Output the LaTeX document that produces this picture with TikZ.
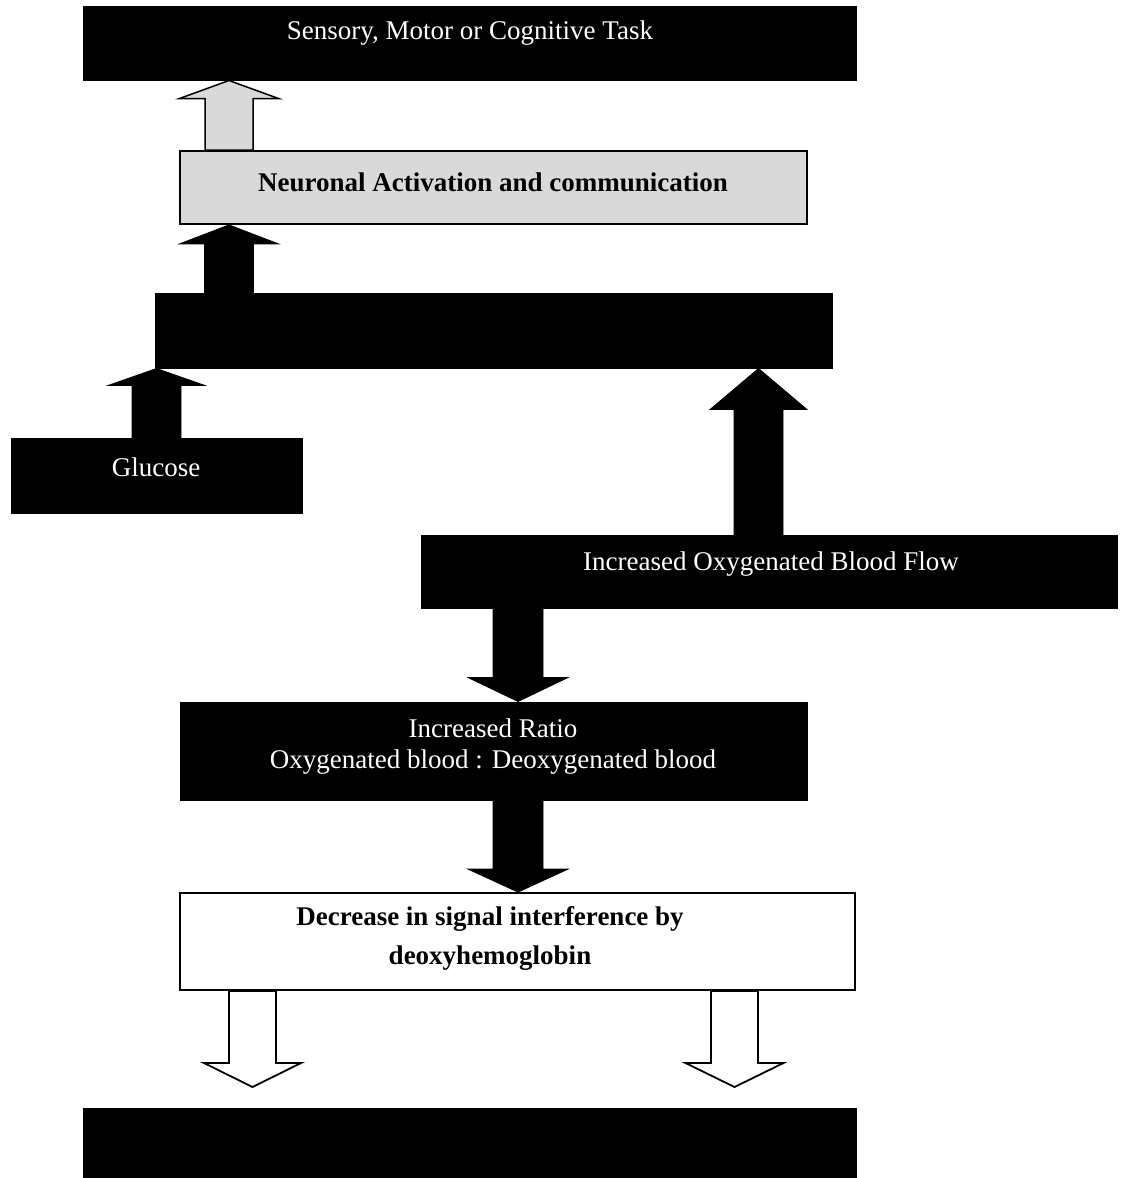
\documentclass[tikz,border=0pt]{standalone}
\usepackage{fontspec}
\setmainfont{Liberation Serif}
\usetikzlibrary{calc}
\newcommand\blockarr[7]{%
  \path[#1] let \p1=(#2,0 |- #3), \p2=(#2,0 |- #4), \p3=($(\p2)!#7pt!(\p1)$) in
  (\x1-#5pt,\y1) -- (\x1-#5pt,\y3) -- (\x1-#6pt,\y3) -- (\x2,\y2) --
  (\x1+#6pt,\y3) -- (\x1+#5pt,\y3) -- (\x1+#5pt,\y1) -- cycle;}
\tikzset{
  darkbox/.style={draw=black, fill=black, inner sep=0pt, line width=1pt},
  graybox/.style={draw=black, fill=gray!30, inner sep=0pt, line width=1.8pt},
  whitebox/.style={draw=black, fill=white, inner sep=0pt, line width=1.8pt},
  wtxt/.style={text=white, font=\fontsize{27}{31}\selectfont, align=center, inner sep=0pt},
  btxt/.style={text=black, font=\fontsize{27}{39}\selectfont\bfseries, align=center, inner sep=0pt},
  blackarr/.style={fill=black, draw=black, line width=0.8pt},
  grayarr/.style={fill=gray!30, draw=black, line width=1.5pt, line join=miter},
  whitearr/.style={fill=white, draw=black, line width=1.8pt, line join=miter},
}
\begin{document}
\begin{tikzpicture}[x=1pt, y=-1pt]
\useasboundingbox (0,0) rectangle (1123,1178);
% boxes
\node[darkbox, minimum width=773pt, minimum height=74pt] (A) at (469.5,43) {};
\node[graybox, minimum width=627pt, minimum height=73pt] (B) at (493.5,187.5) {};
\node[darkbox, minimum width=677pt, minimum height=75pt] (C) at (493.5,330.5) {};
\node[darkbox, minimum width=291pt, minimum height=75pt] (Gl) at (156.5,475.5) {};
\node[darkbox, minimum width=696pt, minimum height=73pt] (D) at (769,571.5) {};
\node[darkbox, minimum width=627pt, minimum height=98pt] (E) at (493.5,751) {};
\node[whitebox, minimum width=675pt, minimum height=97pt] (F) at (517.5,941.5) {};
\node[darkbox, minimum width=773pt, minimum height=70pt] (G) at (469.5,1143) {};
% texts
\node[wtxt] (At) at (470,33) {Sensory, Motor or Cognitive Task};
\node[btxt] (Bt) at (493,182) {Neuronal Activation and communication};
\node[wtxt] (Glt) at (156,467) {Glucose};
\node[wtxt] (Dt) at (771,564) {Increased Oxygenated Blood Flow};
\node[wtxt] (Et) at (493,746.5) {Increased Ratio\\Oxygenated blood : Deoxygenated blood};
\node[btxt] (Ft) at (490,938.5) {Decrease in signal interference by\\deoxyhemoglobin};
% free ends of the bottom arrows
\coordinate (t1) at (252.5,1087);
\coordinate (t2) at (734.5,1087);
% arrows
\blockarr{grayarr}{229}{B.north}{A.south}{24}{49.5}{18}
\blockarr{blackarr}{229}{C.north}{B.south}{24.5}{49.5}{19}
\blockarr{blackarr}{156.5}{Gl.north}{C.south}{24.5}{48.5}{17}
\blockarr{blackarr}{758.5}{D.north}{C.south}{24.5}{48.5}{41}
\blockarr{blackarr}{518}{D.south}{E.north}{25}{50}{24}
\blockarr{blackarr}{518}{E.south}{F.north}{25}{50}{23}
\blockarr{whitearr}{252.5}{F.south}{t1}{23.5}{48.5}{24}
\blockarr{whitearr}{734.5}{F.south}{t2}{23.5}{49}{24}
\end{tikzpicture}
\end{document}
